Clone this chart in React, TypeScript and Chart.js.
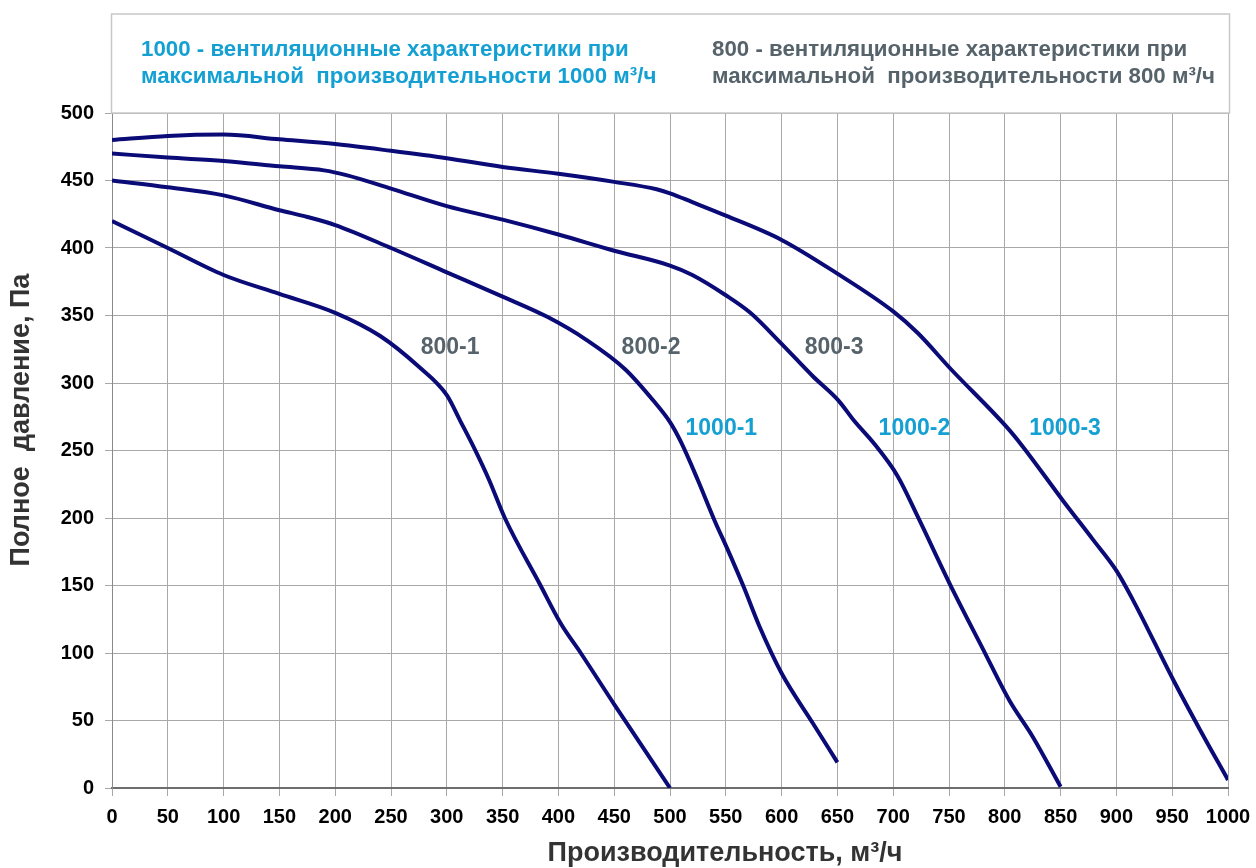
import React, { useEffect, useRef } from "react";
import { Chart, registerables } from "chart.js";

Chart.register(...registerables);

// ---- data ----
const xTicksStep = 50;
const xMin = 0;
const xMax = 1000;
const yMin = 0;
const yMax = 500;
const yTicksStep = 50;

const curve1X = [0, 50, 100, 150, 200, 240, 275, 300, 312, 325, 338, 352, 384, 402, 420, 450, 500];
const curve1Y = [420, 400, 380, 366, 352, 335, 312, 291, 272, 251, 228, 200, 150, 122, 100, 62, 0];

const curve2X = [0, 50, 100, 150, 175, 200, 250, 300, 350, 390, 425, 460, 485, 500, 510, 525, 540, 552, 566, 580, 600, 628, 650];
const curve2Y = [450, 445, 439, 428, 423, 417, 400, 382, 364, 349, 332, 310, 287, 271, 256, 228, 198, 176, 149, 120, 85, 48, 19];

const curve3X = [0, 50, 100, 150, 190, 210, 250, 300, 350, 400, 450, 500, 520, 550, 572, 600, 628, 651, 665, 683, 704, 722, 752, 781, 804, 825, 850];
const curve3Y = [470, 467, 464.5, 460.5, 457.5, 454, 444, 431, 421, 410, 398, 387, 380, 365, 352, 329, 305, 287, 272, 255, 231, 201, 149, 102, 65, 38, 1];

const curve4X = [0, 50, 100, 150, 200, 250, 300, 350, 400, 450, 488, 500, 520, 550, 600, 650, 700, 722, 752, 801, 816, 852, 879, 900, 915, 951, 975, 1000];
const curve4Y = [480, 483, 484, 480.5, 477, 472, 466.5, 460, 455, 449, 443.5, 440.5, 434, 424, 406, 381, 353, 337, 310, 268, 253, 213, 184, 161, 139, 80, 43, 6];

const curveLabelTexts = ["800-1", "800-2", "800-3", "1000-1", "1000-2", "1000-3"];
const curveLabelX = [303, 483, 647, 546, 719, 854];
const curveLabelY = [326, 326, 326, 266, 266, 266];
const curveLabelGroup = ["800", "800", "800", "1000", "1000", "1000"];

const headerLeft = ["1000 - вентиляционные характеристики при", "максимальной  производительности 1000 м³/ч"];
const headerRight = ["800 - вентиляционные характеристики при", "максимальной  производительности 800 м³/ч"];

const xTitle = "Производительность, м³/ч";
const yTitle = "Полное  давление, Па";

// ---- styles ----
const FONT = "'Liberation Sans', Arial, sans-serif";
const CYAN = "#14a0d2";
const GREY = "#56636b";
const NAVY = "#0b0b78";
const GRID = "#a8a8a8";

const toPoints = (xs: number[], ys: number[]) => xs.map((x, i) => ({ x, y: ys[i] }));

const overlayPlugin = {
  id: "overlay",
  afterDraw(chart: any) {
    const { ctx, chartArea, scales } = chart;
    ctx.save();
    // header frame
    ctx.strokeStyle = "#c8c8c8";
    ctx.lineWidth = 1.5;
    ctx.strokeRect(chartArea.left - 0.5, 14, chartArea.right - chartArea.left + 2, chartArea.top - 14);

    ctx.font = `bold 22.3px ${FONT}`;
    ctx.textBaseline = "middle";
    ctx.textAlign = "left";
    ctx.fillStyle = CYAN;
    headerLeft.forEach((t, i) => ctx.fillText(t, chartArea.left + 29, 50 + i * 27));
    ctx.fillStyle = GREY;
    headerRight.forEach((t, i) => ctx.fillText(t, chartArea.left + 600, 50 + i * 27));

    // curve labels
    ctx.font = `bold 23px ${FONT}`;
    ctx.textAlign = "center";
    curveLabelTexts.forEach((t, i) => {
      ctx.fillStyle = curveLabelGroup[i] === "800" ? GREY : CYAN;
      ctx.fillText(t, scales.x.getPixelForValue(curveLabelX[i]), scales.y.getPixelForValue(curveLabelY[i]));
    });

    // axis titles
    ctx.fillStyle = "#333333";
    ctx.font = `bold 27px ${FONT}`;
    ctx.fillText(xTitle, 725, 854);
    ctx.translate(22, 420);
    ctx.rotate(-Math.PI / 2);
    ctx.fillText(yTitle, 0, 0);
    ctx.restore();
  },
};

export default function App() {
  const ref = useRef<HTMLCanvasElement | null>(null);
  useEffect(() => {
    if (!ref.current) return;
    const mk = (xs: number[], ys: number[], label: string) => ({
      label,
      data: toPoints(xs, ys),
      borderColor: NAVY,
      backgroundColor: NAVY,
      borderWidth: 4,
      pointRadius: 0,
      cubicInterpolationMode: "monotone" as const,
      fill: false,
    });
    const chart = new Chart(ref.current, {
      type: "line",
      data: {
        datasets: [
          mk(curve1X, curve1Y, "800-1"),
          mk(curve2X, curve2Y, "800-2 / 1000-1"),
          mk(curve3X, curve3Y, "800-3 / 1000-2"),
          mk(curve4X, curve4Y, "1000-3"),
        ],
      },
      options: {
        animation: false,
        responsive: true,
        maintainAspectRatio: false,
        layout: { padding: { top: 113, right: 28, left: 0, bottom: 0 } },
        plugins: { legend: { display: false }, tooltip: { enabled: false }, title: { display: false } },
        scales: {
          x: {
            type: "linear",
            min: xMin,
            max: xMax,
            afterFit: (s: any) => { s.height = 80; s.paddingLeft = 0; s.paddingRight = 0; },
            ticks: { stepSize: xTicksStep, color: "#000", font: { family: FONT, weight: "bold", size: 20 }, padding: 9, maxRotation: 0, autoSkip: false, callback: (v: any) => String(v) },
            grid: { color: GRID, lineWidth: 1, tickLength: 8, tickColor: GRID },
            border: { color: "#6e6e6e", width: 2 },
          },
          y: {
            type: "linear",
            min: yMin,
            max: yMax,
            afterFit: (s: any) => { s.width = 112; s.paddingTop = 0; s.paddingBottom = 0; },
            ticks: { stepSize: yTicksStep, color: "#000", font: { family: FONT, weight: "bold", size: 20 }, padding: 11, callback: (v: any) => String(v) },
            grid: { color: GRID, lineWidth: 1, tickLength: 7, tickColor: GRID },
            border: { color: "#8a8a8a", width: 1 },
          },
        },
      },
      plugins: [overlayPlugin],
    });
    return () => chart.destroy();
  }, []);
  return (
    <div style={{ position: "fixed", left: 0, top: 0, width: "1256px", height: "868px", background: "#fff" }}>
      <canvas ref={ref} />
    </div>
  );
}
